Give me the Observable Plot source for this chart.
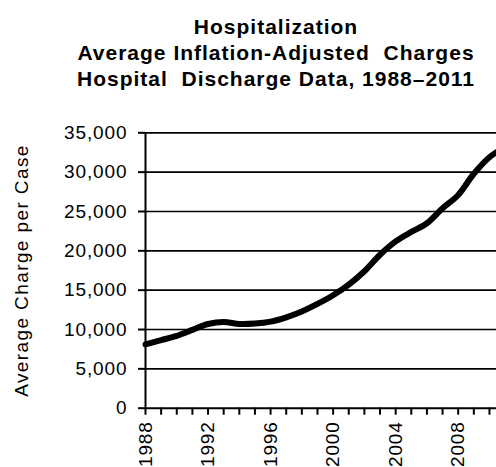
<!DOCTYPE html>
<html>
<head>
<meta charset="utf-8">
<script src="https://cdn.jsdelivr.net/npm/d3@7"></script>
<script src="https://cdn.jsdelivr.net/npm/@observablehq/plot@0.6"></script>
<style>
  html, body { margin: 0; padding: 0; background: #fff; }
  #wrap { position: relative; width: 496px; height: 467px; overflow: hidden; }
  #title { position: absolute; left: 0; top: 14px; width: 552px; text-align: center;
    font-family: "Liberation Sans", Arial, sans-serif; font-weight: bold; font-size: 21px; line-height: 26px;
    letter-spacing: 1px; color: #000; }
  #chart { position: absolute; left: 0; top: 0; }
  #chart svg { max-width: none !important; }
  #chart g[aria-label="y-axis tick label"] text,
  #chart g[aria-label="x-axis tick label"] text { letter-spacing: 0.9px; }
  #chart g[aria-label="y-axis label"] text { letter-spacing: 1.4px; }
</style>
</head>
<body>
<div id="wrap">
  <div id="chart"></div>
  <div id="title">Hospitalization<br>Average Inflation-Adjusted&nbsp; Charges<br>Hospital&nbsp; Discharge Data, 1988–2011</div>
</div>
<script>
const years = [1988,1989,1990,1991,1992,1993,1994,1995,1996,1997,1998,1999,2000,2001,2002,2003,2004,2005,2006,2007,2008,2009,2010,2011];
const charges = [8100,8650,9200,9950,10700,10950,10700,10750,11000,11550,12300,13250,14350,15700,17400,19500,21200,22400,23500,25400,27100,29800,31900,33200];
const yTicks = [0,5000,10000,15000,20000,25000,30000,35000];
const yLabel = "Average Charge per Case";

const data = years.map((y, i) => ({year: y, charge: charges[i]}));

const chart = Plot.plot({
  width: 520,
  height: 480,
  marginLeft: 145,
  marginRight: 15.4,
  marginTop: 132.3,
  marginBottom: 72.3,
  style: {fontFamily: "'Liberation Sans', Arial, sans-serif", fontSize: "19px", color: "#000", background: "#fff", maxWidth: "none"},
  x: {domain: [1988, 2011]},
  y: {domain: [0, 35000]},
  marks: [
    Plot.gridY(yTicks.filter(d => d > 0), {stroke: "#000", strokeOpacity: 1, strokeWidth: 1.7}),
    Plot.axisY({ticks: yTicks, tickFormat: d3.format(","), tickSize: 7, tickPadding: 11, strokeWidth: 2,
      label: null, fontSize: 19}),
    Plot.axisY({ticks: [], tickSize: 0, label: yLabel, labelAnchor: "center", labelArrow: "none", labelOffset: 131,
      fontSize: 19}),
    Plot.axisX({ticks: years, tickFormat: d => d % 4 === 0 ? String(d) : "", tickSize: 7, tickPadding: 6,
      tickRotate: -90, label: null, strokeWidth: 2, fontSize: 19}),
    Plot.ruleY([0], {stroke: "#000", strokeWidth: 2}),
    Plot.ruleX([1988], {stroke: "#000", strokeWidth: 2}),
    Plot.line(data, {x: "year", y: "charge", stroke: "#000", strokeWidth: 6, curve: "catmull-rom"})
  ]
});
document.getElementById("chart").appendChild(chart);
</script>
</body>
</html>
